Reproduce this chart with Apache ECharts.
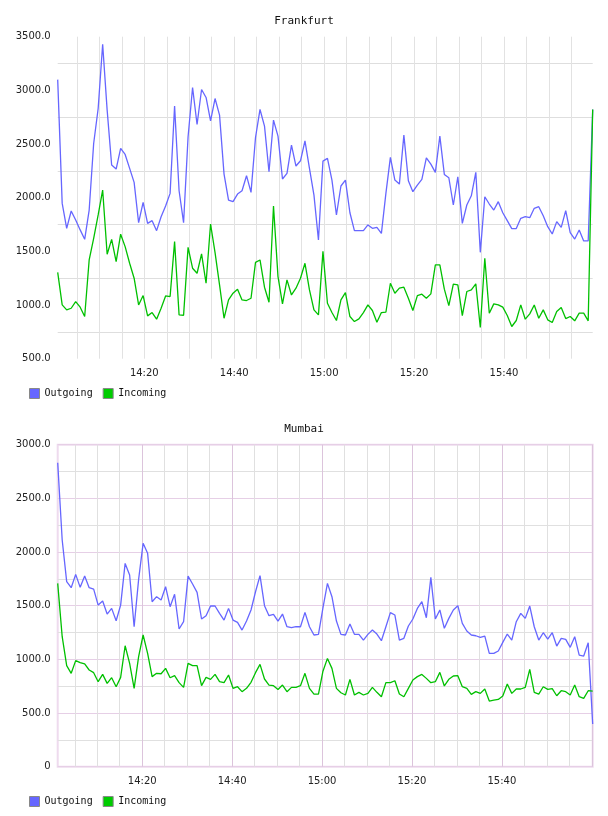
<!DOCTYPE html>
<html>
<head>
    <meta charset="UTF-8">
    <title>traffic</title>
</head>
<style>
    * {
        margin: 0;
        padding: 0;
    }

    body {
        background: #fff;
        width: 608px;
        height: 816px;
    }

    .chart {
        width: 608px;
        height: 408px;
    }
</style>
<script src="https://cdn.jsdelivr.net/npm/echarts@6/dist/echarts.min.js"></script>
<body>
<div class="chart" id="frankfurt"></div>
<div class="chart" id="mumbai"></div>
</body>
<script>
  // minutes after 14:00 of the first sample, one sample per minute
  const frankfurtStart = 0.74
  const mumbaiStart = 1.2

  const frankfurtOut = [3100, 1947, 1715, 1876, 1792, 1700, 1612, 1885, 2505, 2831, 3430, 2816, 2304, 2267, 2459, 2403, 2273, 2143, 1767, 1957,
    1761, 1786, 1693, 1823, 1922, 2040, 2853, 2065, 1767, 2568, 3027, 2682, 3008, 2934, 2716, 2924, 2769, 2220, 1978, 1963,
    2034, 2065, 2205, 2050, 2561, 2822, 2667, 2242, 2723, 2574, 2174, 2226, 2490, 2295, 2344, 2530, 2273, 2024, 1606, 2341,
    2366, 2164, 1839, 2109, 2164, 1860, 1693, 1693, 1693, 1746, 1715, 1724, 1668, 2040, 2375, 2164, 2127, 2583, 2158, 2056,
    2118, 2171, 2372, 2313, 2236, 2574, 2217, 2186, 1932, 2195, 1761, 1932, 2018, 2236, 1491, 2009, 1941, 1885, 1963, 1860,
    1786, 1712, 1712, 1808, 1823, 1814, 1901, 1916, 1832, 1730, 1662, 1777, 1724, 1879, 1674, 1615, 1699, 1597, 1597, 2822]

  const frankfurtIn = [1305, 1001, 955, 970, 1032, 980, 893, 1420, 1622, 1839, 2071, 1473, 1612, 1405, 1660, 1544, 1389, 1250, 1001, 1088,
    899, 930, 868, 970, 1085, 1079, 1591, 908, 905, 1538, 1343, 1296, 1476, 1203, 1755, 1488, 1188, 877, 1048, 1110,
    1148, 1048, 1042, 1063, 1398, 1420, 1166, 1026, 1922, 1265, 1011, 1234, 1094, 1157, 1250, 1389, 1141, 955, 908, 1500,
    1017, 930, 856, 1048, 1116, 893, 846, 871, 930, 1001, 949, 840, 930, 933, 1203, 1110, 1157, 1166, 1063, 949,
    1088, 1101, 1063, 1104, 1374, 1374, 1148, 995, 1194, 1188, 902, 1126, 1141, 1197, 791, 1436, 924, 1011, 1001, 980,
    902, 800, 856, 1001, 868, 918, 1001, 877, 955, 862, 837, 940, 977, 874, 893, 853, 924, 924, 853, 2822]

  const mumbaiOut = [2832, 2112, 1724, 1668, 1792, 1671, 1776, 1668, 1655, 1506, 1543, 1422, 1475, 1360, 1506, 1894, 1786, 1304, 1745, 2081,
    1988, 1537, 1584, 1553, 1677, 1491, 1606, 1283, 1351, 1776, 1702, 1624, 1376, 1407, 1497, 1497, 1429, 1366, 1475, 1366,
    1345, 1273, 1357, 1460, 1630, 1780, 1500, 1407, 1419, 1357, 1422, 1304, 1295, 1304, 1304, 1438, 1304, 1227, 1233, 1480,
    1708, 1584, 1357, 1233, 1227, 1329, 1233, 1233, 1180, 1233, 1273, 1236, 1174, 1304, 1435, 1413, 1180, 1196, 1311, 1376,
    1475, 1537, 1388, 1764, 1376, 1460, 1289, 1382, 1460, 1500, 1335, 1264, 1227, 1220, 1205, 1217, 1056, 1056, 1078, 1158,
    1236, 1180, 1351, 1429, 1382, 1497, 1304, 1180, 1248, 1189, 1248, 1124, 1196, 1186, 1112, 1211, 1040, 1031, 1155, 398]

  const mumbaiIn = [1708, 1211, 941, 870, 988, 969, 957, 901, 876, 792, 860, 776, 829, 745, 832, 1127, 963, 730, 1025, 1227,
    1056, 839, 870, 866, 916, 829, 848, 783, 739, 963, 941, 941, 755, 832, 814, 860, 792, 783, 854, 730,
    745, 699, 730, 786, 876, 953, 817, 761, 755, 720, 761, 699, 739, 739, 755, 870, 730, 677, 677, 890,
    1009, 916, 730, 689, 668, 814, 668, 693, 668, 683, 739, 693, 652, 783, 783, 801, 677, 652, 730, 808,
    839, 860, 823, 783, 792, 879, 752, 814, 845, 848, 745, 730, 674, 699, 683, 724, 612, 621, 627, 658,
    770, 683, 724, 724, 739, 907, 693, 677, 745, 720, 727, 661, 708, 699, 668, 761, 652, 637, 708, 705]

  const minorTicks = [5, 10, 15, 20, 25, 30, 35, 40, 45, 50, 55, 60, 65, 70, 75, 80, 85, 90, 95, 100, 105, 110, 115, 120]
  const timeLabels = [20, 40, 60, 80, 100]

  const seriesNames = ['Outgoing', 'Incoming']
  const seriesColors = ['#6666ff', '#00c000']
  const legendColors = ['#6666ff', '#00cc00']

  function toPairs(start, values) {
    return values.map((v, i) => [start + i, v])
  }

  function clock(v) {
    const h = 14 + Math.floor(v / 60)
    const m = Math.round(v % 60)
    return h + ':' + (m < 10 ? '0' + m : m)
  }

  function makeOption(title, start, outData, inData, yMin, yMax, framed) {
    const first = start
    const last = start + outData.length - 1
    const pink = '#e6cfe6'
    const grey = '#e2e2e2'
    return {
      animation: false,
      textStyle: {fontFamily: 'DejaVu Sans'},
      title: {
        text: title,
        left: 'center',
        top: 11,
        textStyle: {fontFamily: 'DejaVu Sans Mono', fontSize: 11, fontWeight: 'normal', color: '#111'}
      },
      legend: {
        left: 24,
        top: 383,
        icon: 'rect',
        itemWidth: 10,
        itemHeight: 10,
        itemGap: 10,
        textStyle: {fontFamily: 'DejaVu Sans Mono', fontSize: 10, color: '#111'},
        data: seriesNames.map((n, i) => ({
          name: n,
          itemStyle: {color: legendColors[i], borderColor: '#888', borderWidth: 1}
        }))
      },
      grid: {
        left: 57.7,
        right: 15.3,
        top: 36.7,
        bottom: 49.3,
        show: framed,
        borderColor: '#eedbee',
        borderWidth: 2
      },
      xAxis: {
        type: 'value',
        min: first,
        max: last,
        axisLine: {show: false},
        axisTick: {show: false, customValues: minorTicks.filter(t => t > first && t < last + 0.5)},
        axisLabel: {
          customValues: timeLabels,
          formatter: clock,
          fontSize: 10,
          color: '#222',
          margin: 10
        },
        splitLine: {
          show: true,
          lineStyle: {
            width: 1,
            color: framed ? ['#e0e0e0', '#e0e0e0', '#e0e0e0', '#dcc4dc'] : [grey]
          }
        }
      },
      yAxis: {
        type: 'value',
        min: yMin,
        max: yMax,
        interval: 250,
        axisLine: {show: false},
        axisTick: {show: false},
        axisLabel: {
          fontSize: 10,
          color: '#222',
          margin: 7,
          formatter: v => v % 500 !== 0 ? '' : (v === 0 ? '0' : v.toFixed(1))
        },
        splitLine: {
          show: true,
          lineStyle: {
            width: 1,
            color: framed ? [pink, '#e0e0e0'] : ['rgba(0,0,0,0)', '#dedede']
          }
        }
      },
      series: [
        {
          name: seriesNames[0],
          type: 'line',
          symbol: 'none',
          data: toPairs(start, outData),
          lineStyle: {width: 1.3, color: seriesColors[0]},
          itemStyle: {color: legendColors[0]}
        },
        {
          name: seriesNames[1],
          type: 'line',
          symbol: 'none',
          data: toPairs(start, inData),
          lineStyle: {width: 1.3, color: seriesColors[1]},
          itemStyle: {color: legendColors[1]}
        }
      ]
    }
  }

  const frankfurtChart = echarts.init(document.getElementById('frankfurt'))
  frankfurtChart.setOption(makeOption('Frankfurt', frankfurtStart, frankfurtOut, frankfurtIn, 500, 3500, false))

  const mumbaiChart = echarts.init(document.getElementById('mumbai'))
  mumbaiChart.setOption(makeOption('Mumbai', mumbaiStart, mumbaiOut, mumbaiIn, 0, 3000, true))
</script>
</html>
